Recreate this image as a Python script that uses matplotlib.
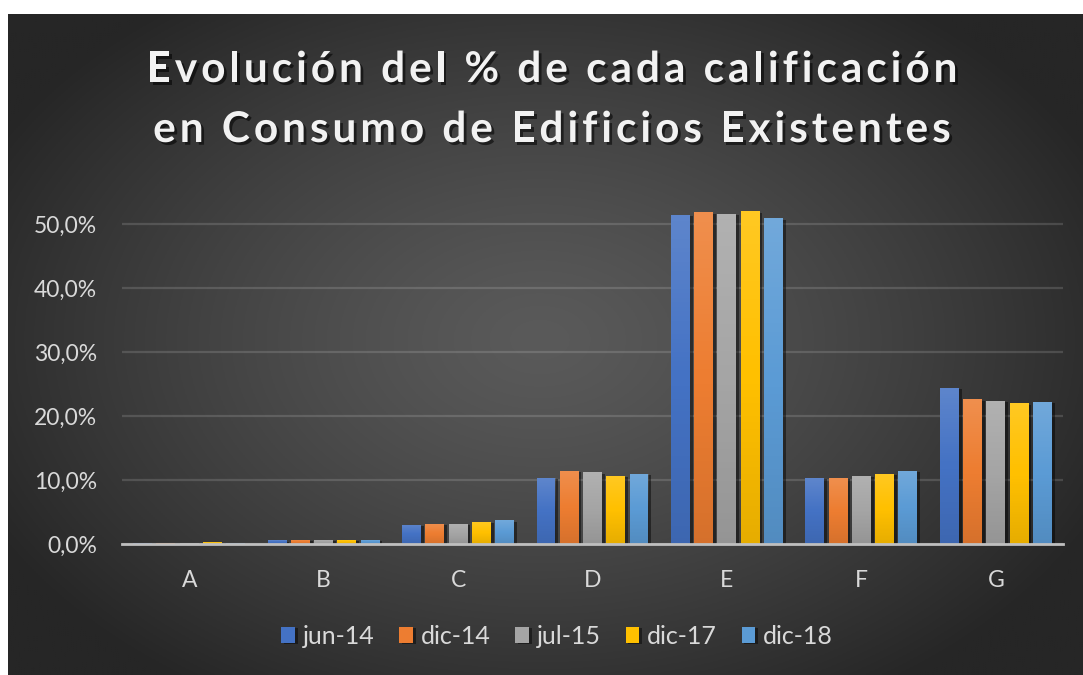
import numpy as np
import matplotlib
matplotlib.use("Agg")
import matplotlib.pyplot as plt
from matplotlib import patheffects as pe
from matplotlib.font_manager import FontProperties, findfont
from matplotlib.ft2font import FT2Font
from matplotlib.ticker import FuncFormatter

# ---------------- data ----------------
categories = ["A", "B", "C", "D", "E", "F", "G"]
series_names = ["jun-14", "dic-14", "jul-15", "dic-17", "dic-18"]
jun14 = [0.15, 0.6, 3.0, 10.3, 51.4, 10.3, 24.4]
dic14 = [0.2, 0.7, 3.2, 11.45, 51.8, 10.3, 22.6]
jul15 = [0.2, 0.7, 3.2, 11.2, 51.6, 10.7, 22.4]
dic17 = [0.25, 0.7, 3.5, 10.7, 52.0, 11.0, 22.0]
dic18 = [0.15, 0.7, 3.7, 11.0, 50.9, 11.45, 22.2]
series_values = [jun14, dic14, jul15, dic17, dic18]
yticks = [0, 10, 20, 30, 40, 50]
title_lines = ["Evolución del % de cada calificación",
               "en Consumo de Edificios Existentes"]

colors = ["#4472C4", "#ED7D31", "#A5A5A5", "#FFC000", "#5B9BD5"]

W, H, DPI = 1083, 675, 100
fig = plt.figure(figsize=(W / DPI, H / DPI), dpi=DPI, facecolor="white")

# ---------------- background (radial gradient) ----------------
bx0, by1 = 8, 14
bg = fig.add_axes([bx0 / W, 0, 1 - bx0 / W, (H - by1) / H])
bg.set_axis_off()
nx, ny = 540, 330
xx, yy = np.meshgrid(np.linspace(bx0, W, nx), np.linspace(by1, H, ny))
cx, cy = 540, 340
d = np.sqrt(((xx - cx) / 620) ** 2 + ((yy - cy) / 420) ** 2)
d = np.clip(d, 0, 1)
c_in, c_out = 0x5a / 255, 0x26 / 255
val = c_in + (c_out - c_in) * d ** 1.3
img = np.dstack([val, val, val])
bg.imshow(img, extent=[0, 1, 0, 1], aspect="auto", origin="upper")
bg.set_xlim(0, 1)
bg.set_ylim(0, 1)

# ---------------- main axes ----------------
ax_l, ax_r, ax_t, ax_b = 122, 1063, 192, 544
ax = fig.add_axes([ax_l / W, (H - ax_b) / H, (ax_r - ax_l) / W, (ax_b - ax_t) / H])
ax.set_facecolor("none")

x = np.arange(len(categories))
step = 0.173
bw = 0.141
offsets = (np.arange(len(series_names)) - 2) * step

shadow = [pe.SimplePatchShadow(offset=(2, -1), shadow_rgbFace="black", alpha=0.45), pe.Normal()]
containers = []
for i, (name, vals) in enumerate(zip(series_names, series_values)):
    bars = ax.bar(x + offsets[i], vals, width=bw, color=colors[i], label=name,
                  zorder=3, linewidth=0)
    for b in bars:
        b.set_path_effects(shadow)
    containers.append(bars)

# subtle vertical gradient on bars
grad = np.linspace(0, 1, 64).reshape(-1, 1)
for bars in containers:
    for b in bars:
        h = b.get_height()
        if h <= 0:
            continue
        x0 = b.get_x()
        wdt = b.get_width()
        rgba = np.zeros((64, 1, 4))
        rgba[..., :3] = np.where(grad[..., None] < 0.5, 1.0, 0.0)
        a = np.abs(grad - 0.5) * 2
        rgba[..., 3] = (np.where(grad < 0.5, 0.14, 0.10) * a)
        im = ax.imshow(rgba, extent=[x0, x0 + wdt, 0, h], aspect="auto",
                       origin="upper", zorder=3.5, interpolation="bilinear")
        im.set_clip_path(b)

ax.set_xlim(-0.5, len(categories) - 0.5)
ax.set_ylim(0, 55)
ax.set_yticks(yticks)
ax.yaxis.set_major_formatter(FuncFormatter(lambda v, p: f"{v:.1f}%".replace(".", ",")))
ax.set_xticks(x)
ax.set_xticklabels(categories)

for s in ["top", "right", "left"]:
    ax.spines[s].set_visible(False)
ax.spines["bottom"].set_color("#bfbfbf")
ax.spines["bottom"].set_linewidth(2)
ax.spines["bottom"].set_zorder(4)

ax.grid(axis="y", color="#ffffff", alpha=0.14, linewidth=1.6, zorder=0)
ax.set_axisbelow(True)

tick_font = FontProperties(family="Lato", size=16.5)
ax.tick_params(axis="both", length=0, colors="#d9d9d9")
ax.tick_params(axis="y", pad=18)
ax.tick_params(axis="x", pad=19)
for lab in ax.get_yticklabels() + ax.get_xticklabels():
    lab.set_fontproperties(tick_font)
    lab.set_color("#d9d9d9")

# ---------------- legend ----------------
leg = fig.legend(loc="center", bbox_to_anchor=(557 / W, 1 - 636 / H), ncol=5,
                 frameon=False, prop=FontProperties(family="Lato", size=18),
                 handlelength=0.55, handleheight=0.6, handletextpad=0.3,
                 columnspacing=1.0, labelcolor="#d9d9d9")

# ---------------- title (letter-spaced) ----------------
title_fp = FontProperties(family="Lato", weight="bold", size=30.5)
font = FT2Font(findfont(title_fp))
font.set_size(title_fp.get_size_in_points(), DPI)

def advances(s):
    out = []
    for ch in s:
        g = font.load_char(ord(ch))
        out.append(g.linearHoriAdvance / 65536.0)
    return out

adv1 = advances(title_lines[0])
target1 = 958 - 147
spacing = max((target1 - sum(adv1)) / (len(title_lines[0]) - 1), 0.0)

title_fx = [pe.withSimplePatchShadow(offset=(2, -2), shadow_rgbFace="black", alpha=0.55)]
baselines = [82, 142]
center_x = 552
for line, base in zip(title_lines, baselines):
    adv = advances(line)
    total = sum(adv) + spacing * (len(line) - 1)
    pen = center_x - total / 2
    for ch, a in zip(line, adv):
        if ch != " ":
            fig.text((pen + a / 2) / W, 1 - base / H, ch, fontproperties=title_fp,
                     color="#f2f2f2", ha="center", va="baseline",
                     path_effects=title_fx)
        pen += a + spacing

fig.savefig("out.png", dpi=DPI, facecolor="white")
